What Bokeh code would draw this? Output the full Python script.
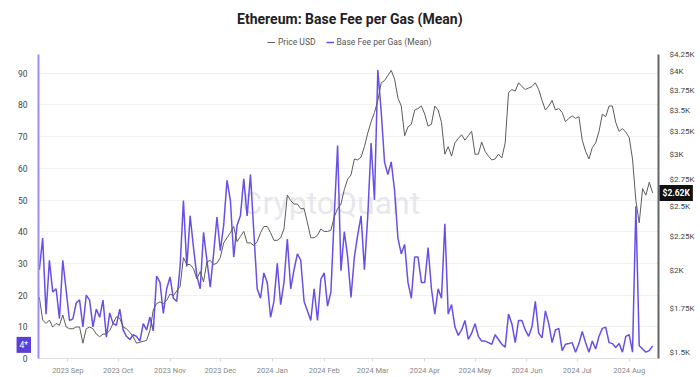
import pandas as pd
from bokeh.plotting import figure
from bokeh.layouts import column
from bokeh.models import (Range1d, LogAxis, LogScale, FixedTicker, CustomJSTickFormatter,
                          Label, Legend, LegendItem, MonthsTicker, DatetimeTickFormatter)
from bokeh.embed import file_html
from bokeh.resources import INLINE
from bokeh.core.properties import value

# ---------------- data (2-day sampling) ----------------
START_DATE = "2023-08-15"
N_POINTS = 184
dates = pd.date_range(START_DATE, periods=N_POINTS, freq="2D")

base_fee = [
    28, 38, 14, 31, 21, 22, 12.6, 31, 21.5, 12,
    12.5, 17.5, 18.5, 10, 20, 18.4, 10, 15.6, 13, 18.4,
    6.7, 14.4, 11, 10.5, 15.6, 9, 7, 6, 7.5, 7,
    5.5, 11, 9, 13, 8.7, 26, 24, 14.2, 22, 25.7,
    19, 18, 29, 49.8, 29, 45, 35, 26, 22, 39.8,
    31, 22.5, 33, 44.6, 34, 42, 56.2, 50, 32, 42,
    45, 56.7, 45, 58, 40, 22, 19, 27, 24, 13,
    18, 30, 17, 24, 37.7, 22, 28, 33, 31, 18,
    15, 12, 22, 12, 25, 27, 16.5, 21, 45, 67.2,
    27.7, 40, 32, 19.3, 32, 39, 45, 28, 45, 68,
    50, 91, 78, 62, 58, 62, 53, 38, 33, 36,
    24, 19, 32, 32, 24, 24, 35, 22, 14, 22,
    19, 42.5, 14, 17, 10, 7.3, 9, 12, 6, 8,
    11, 7, 5.5, 5.5, 5, 4.5, 7.5, 6, 4.5, 3.6,
    14, 11, 5, 12, 12, 9, 7, 10, 18, 8,
    6.5, 15, 11, 5, 9, 9.5, 2.5, 4.5, 4.7, 5,
    2, 4.7, 8.5, 5, 2, 5.5, 3, 7, 9.5, 9.9,
    5, 4.7, 3.5, 4.7, 2, 7, 7.5, 2, 48, 4,
    3, 2, 2.5, 4,
]

price_usd = [
    1820, 1680, 1660, 1680, 1640, 1660, 1650, 1710, 1640, 1630,
    1630, 1640, 1640, 1550, 1630, 1640, 1630, 1600, 1585, 1600,
    1600, 1620, 1660, 1700, 1690, 1640, 1630, 1610, 1585, 1550,
    1555, 1560, 1565, 1620, 1740, 1780, 1790, 1780, 1800, 1840,
    1830, 1860, 1890, 2090, 2040, 2040, 2010, 1940, 1990, 1920,
    2060, 2070, 2040, 2050, 2090, 2200, 2240, 2280, 2330, 2210,
    2250, 2290, 2200, 2200, 2180, 2210, 2280, 2330, 2330, 2280,
    2220, 2220, 2240, 2310, 2600, 2550, 2520, 2520, 2480, 2480,
    2360, 2240, 2240, 2260, 2310, 2290, 2290, 2300, 2410, 2480,
    2520, 2650, 2750, 2790, 2950, 2940, 2970, 3080, 3230, 3360,
    3470, 3620, 3850, 3880, 3950, 4020, 3900, 3650, 3550, 3200,
    3300, 3330, 3500, 3520, 3550, 3450, 3310, 3330, 3550, 3500,
    3350, 3000, 3080, 2980, 3120, 3170, 3210, 3150, 3200, 3250,
    3000, 3000, 3130, 3030, 2980, 2940, 2950, 3000, 2960, 3120,
    3720, 3760, 3740, 3850, 3800, 3760, 3780, 3800, 3850, 3760,
    3620, 3500, 3550, 3620, 3500, 3520, 3470, 3360, 3400, 3430,
    3400, 3420, 3150, 3030, 2950, 3070, 3120, 3250, 3450, 3420,
    3550, 3550, 3350, 3250, 3280, 3240, 3180, 2950, 2550, 2360,
    2660, 2600, 2720, 2620,
]

fee_ticks = [0, 10, 20, 30, 40, 50, 60, 70, 80, 90]
price_ticks = [1500, 1750, 2000, 2250, 2500, 2750, 3000, 3250, 3500, 3750, 4000, 4250]
legend_labels = ["Price USD", "Base Fee per Gas (Mean)"]
last_fee_text = "4*"
last_fee = 4.3
last_price_text = "$2.62K"
last_price = 2620
title_text = "Ethereum: Base Fee per Gas (Mean)"

FONT = "Roboto"
PURPLE = "#6650e6"
GRAY = "#5c5c5c"

# ---------------- header (title + legend) ----------------
TOP_H = 54
top = figure(width=700, height=TOP_H, x_range=Range1d(0, 700), y_range=Range1d(0, TOP_H),
             toolbar_location=None, output_backend="svg", x_axis_location=None, y_axis_location=None,
             min_border_left=0, min_border_right=0, min_border_top=0, min_border_bottom=0)
top.grid.visible = False
top.outline_line_color = None
top.text(x=[351.5], y=[TOP_H - 18], text=[title_text], text_align="center", text_baseline="middle",
         text_font=value(FONT), text_font_style="bold", text_font_size="14px", text_color="#222222")
lg_price = top.line(x=[-50, -40], y=[0, 0], color=GRAY, line_width=1)
lg_fee = top.line(x=[-50, -40], y=[0, 0], color=PURPLE, line_width=1.5)
legend = Legend(items=[LegendItem(label=legend_labels[0], renderers=[lg_price]),
                       LegendItem(label=legend_labels[1], renderers=[lg_fee])],
                location=(229, 6), orientation="horizontal",
                label_text_font=FONT, label_text_font_size="8.5px", label_text_color="#555555",
                glyph_width=8, glyph_height=10, label_height=12, label_standoff=3, spacing=10,
                padding=0, margin=0, border_line_color=None, background_fill_alpha=0)
top.add_layout(legend)

# ---------------- main chart ----------------
x_start = pd.Timestamp("2023-08-14 12:00")
x_end = pd.Timestamp("2024-08-18 12:00")
OVERLAP = 16

p = figure(width=700, height=377 - TOP_H + OVERLAP, x_axis_type="datetime",
           x_range=Range1d(x_start, x_end), y_range=Range1d(0, 95.9),
           toolbar_location=None, output_backend="svg",
           min_border_left=29, min_border_right=42, min_border_top=OVERLAP, min_border_bottom=19)
p.margin = (-OVERLAP, 0, 0, 0)
p.outline_line_color = None
p.background_fill_color = "white"
p.border_fill_alpha = 0

p.extra_y_ranges = {"price": Range1d(1469, 4250)}
p.extra_y_scales = {"price": LogScale()}

# watermark
wm_x = pd.Timestamp("2024-02-05").timestamp() * 1000
p.add_layout(Label(x=wm_x, y=49, text="CryptoQuant", text_align="center", text_baseline="middle",
                   text_font=FONT, text_font_size="32px", text_color="#d8d8e4",
                   text_alpha=0.6, level="underlay"))

r_fee = p.line(dates, base_fee, color=PURPLE, line_width=1.5)
r_price = p.line(dates, price_usd, y_range_name="price", color=GRAY, line_width=1)

# left axis
ax_l = p.yaxis[0]
ax_l.ticker = FixedTicker(ticks=fee_ticks)
ax_l.axis_line_color = "#9d8ff2"
ax_l.axis_line_width = 2
ax_l.major_tick_line_color = None
ax_l.minor_tick_line_color = None
ax_l.major_label_text_font = FONT
ax_l.major_label_text_font_size = "8.5px"
ax_l.major_label_text_color = "#444444"
ax_l.major_label_standoff = 5

# right axis
ax_r = LogAxis(y_range_name="price", ticker=FixedTicker(ticks=price_ticks),
               formatter=CustomJSTickFormatter(code="return '$' + (tick/1000) + 'K';"))
ax_r.axis_line_color = "#666666"
ax_r.axis_line_width = 2
ax_r.major_tick_line_color = None
ax_r.minor_tick_line_color = None
ax_r.major_label_text_font = FONT
ax_r.major_label_text_font_size = "8px"
ax_r.major_label_text_color = "#444444"
ax_r.major_label_standoff = 5
p.add_layout(ax_r, "right")

# x axis
ax_x = p.xaxis[0]
ax_x.ticker = MonthsTicker(months=list(range(12)))
ax_x.formatter = DatetimeTickFormatter(months="%Y %b", days="%Y %b", years="%Y")
ax_x.axis_line_color = "#e3e3e3"
ax_x.major_tick_line_color = "#d8d8d8"
ax_x.major_tick_out = 3
ax_x.major_tick_in = 0
ax_x.minor_tick_line_color = None
ax_x.major_label_text_font = FONT
ax_x.major_label_text_font_size = "7.5px"
ax_x.major_label_text_color = "#888888"
ax_x.major_label_standoff = 4

p.xgrid.grid_line_color = None
p.ygrid.grid_line_color = "#f1f1f1"

# current value tags (side panels so they are not clipped to the frame)
p.add_layout(Label(x=x_start.timestamp() * 1000, y=last_fee, text=last_fee_text, text_align="right",
                   text_baseline="middle", x_offset=-7.5, text_font=FONT, text_font_size="8.5px",
                   text_color="white", background_fill_color="#5b3fd9", padding=3), "left")
p.add_layout(Label(x=x_end.timestamp() * 1000, y=last_price, y_range_name="price", text=last_price_text,
                   text_align="left", text_baseline="middle", x_offset=1, text_font=FONT,
                   text_font_size="8.5px", text_font_style="bold", text_color="white",
                   background_fill_color="#111111", padding=3), "above")

layout = column(top, p, spacing=0)
open("out.html", "w").write(file_html(layout, INLINE))
